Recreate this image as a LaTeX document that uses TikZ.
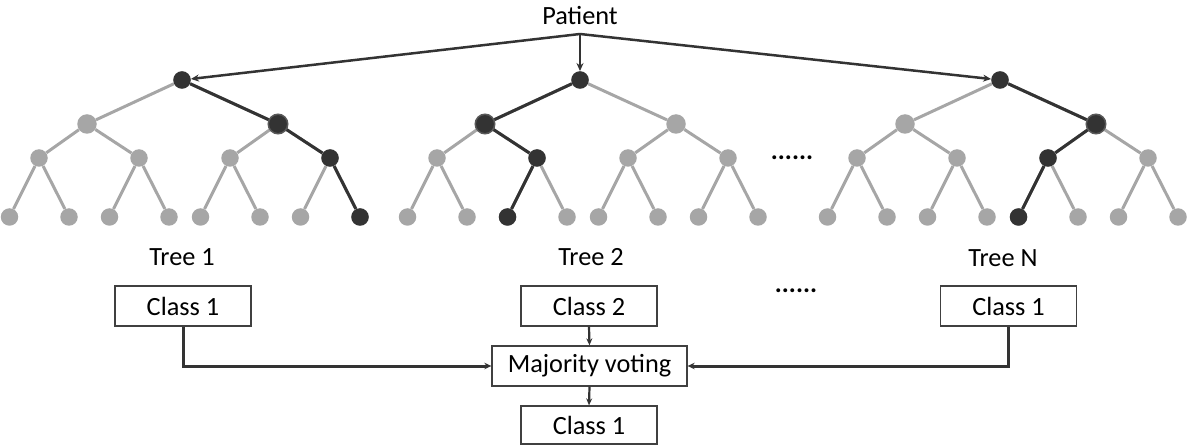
\documentclass[tikz,border=0pt]{standalone}
\usepackage{fontspec}
\setmainfont{Carlito}
\usetikzlibrary{arrows.meta,backgrounds}

\definecolor{leafgray}{HTML}{A6A6A6}
\definecolor{pathdark}{HTML}{333333}
\definecolor{ringgray}{HTML}{595959}
\definecolor{boxline}{HTML}{404040}

\tikzset{
  txt/.style={font=\fontsize{26.3}{30}\selectfont, text=black},
  dot/.style={circle, inner sep=0pt, minimum size=17.5pt, fill=leafgray},
  bigdot/.style={dot, minimum size=19.5pt},
  grayedge/.style={leafgray, line width=3pt},
  darkedge/.style={pathdark, line width=3pt},
  arr/.style={pathdark, line width=2.5pt, -{Stealth[length=8pt,width=7pt]}},
  linkarr/.style={pathdark, line width=3pt, -{Stealth[length=7pt,width=6.5pt]}},
  smallarr/.style={pathdark, line width=2.2pt, -{Stealth[length=7pt,width=6pt]}},
  classbox/.style={txt, draw=boxline, line width=1.3pt, inner sep=0pt,
    minimum width=136pt, minimum height=40pt},
}

% A complete binary tree of depth 3; #1 = name prefix, #2 = x of the root
\newcommand\randomtree[2]{%
  \node[dot]    (#1)    at (#2,80) {};
  \node[bigdot] (#1l)   at ({#2-95},124) {};
  \node[bigdot] (#1r)   at ({#2+96},124) {};
  \node[dot]    (#1ll)  at ({#2-143},158) {};
  \node[dot]    (#1lr)  at ({#2-43},158) {};
  \node[dot]    (#1rl)  at ({#2+48},158) {};
  \node[dot]    (#1rr)  at ({#2+148},158) {};
  \node[dot]    (#1lll) at ({#2-172.5},217) {};
  \node[dot]    (#1llr) at ({#2-113},217) {};
  \node[dot]    (#1lrl) at ({#2-72.5},217) {};
  \node[dot]    (#1lrr) at ({#2-13},217) {};
  \node[dot]    (#1rll) at ({#2+18.5},217) {};
  \node[dot]    (#1rlr) at ({#2+78},217) {};
  \node[dot]    (#1rrl) at ({#2+118.5},217) {};
  \node[dot]    (#1rrr) at ({#2+178},217) {};
  \begin{scope}[on background layer]
    \foreach \p/\c in {/l,/r,l/ll,l/lr,r/rl,r/rr,ll/lll,ll/llr,lr/lrl,lr/lrr,rl/rll,rl/rlr,rr/rrl,rr/rrr}
      \draw[grayedge] (#1\p) -- (#1\c);
  \end{scope}
}

% The decision path taken through a tree: root, level 1, level 2, leaf
\newcommand\decisionpath[4]{%
  \begin{scope}[on background layer]
    \draw[darkedge] (#1) -- (#2) (#2) -- (#3) (#3) -- (#4);
  \end{scope}
  \node[dot, fill=pathdark] at (#1) {};
  \node[bigdot, fill=pathdark, draw=ringgray, line width=1.5pt] at (#2) {};
  \node[dot, fill=pathdark] at (#3) {};
  \node[dot, fill=pathdark] at (#4) {};
}

\begin{document}
\begin{tikzpicture}[x=1pt, y=-1pt]
  \useasboundingbox (0,0) rectangle (1189,446);

  % trees
  \randomtree{ta}{182}
  \randomtree{tb}{580}
  \randomtree{tn}{1000}
  \decisionpath{ta}{tar}{tarr}{tarrr}
  \decisionpath{tb}{tbl}{tblr}{tblrl}
  \decisionpath{tn}{tnr}{tnrl}{tnrll}

  % input
  \node[txt] (patient) at (580,16) {Patient};
  \coordinate (hub) at (580,34);
  \draw[arr] (hub) -- (ta);
  \draw[arr] (hub) -- (tb);
  \draw[arr] (hub) -- (tn);

  \node[txt, font=\fontsize{26.3}{30}\selectfont\bfseries, inner sep=0pt] (dotsa) at (792,158) {......};

  % tree labels and votes
  \node[txt] (labela) at (182,257) {Tree 1};
  \node[txt] (labelb) at (591,257) {Tree 2};
  \node[txt] (labeln) at (1003,258) {Tree N};

  \node[classbox] (classa) at (183,306) {Class 1};
  \node[classbox] (classb) at (589,306) {Class 2};
  \node[classbox] (classn) at (1008.5,306) {Class 1};
  \node[txt, font=\fontsize{26.3}{30}\selectfont\bfseries, inner sep=0pt] (dotsb) at (796,291) {......};

  \node[classbox, minimum width=195pt] (vote) at (589.5,366) {Majority voting};
  \node[classbox, minimum height=38pt] (result) at (589,425) {Class 1};

  \draw[linkarr] (classa.south) |- (vote.west);
  \draw[linkarr] (classn.south) |- (vote.east);
  \draw[smallarr] (classb.south) -- (vote.north);
  \draw[smallarr] (vote.south) -- (result.north);
\end{tikzpicture}
\end{document}
